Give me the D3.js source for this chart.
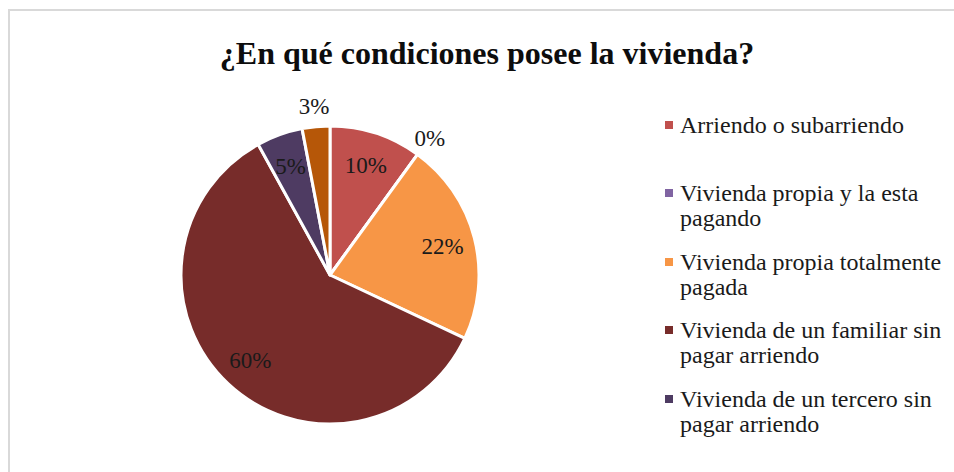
<!DOCTYPE html>
<html>
<head>
<meta charset="utf-8">
<script src="https://cdn.jsdelivr.net/npm/d3@7"></script>
<style>
  body { margin: 0; background: #fff; }
  text { font-family: "Liberation Serif", "Times New Roman", serif; }
</style>
</head>
<body>
<div id="chart"></div>
<script>
const title = '¿En qué condiciones posee la vivienda?'
// slices, clockwise from 12 o'clock
const categories = [
  'Arriendo o subarriendo',
  'Vivienda propia y la esta pagando',
  'Vivienda propia totalmente pagada',
  'Vivienda de un familiar sin pagar arriendo',
  'Vivienda de un tercero sin pagar arriendo',
  'Otra'
]
const values = [10, 0, 22, 60, 5, 3]
const colors = ['#C0504D', '#8064A2', '#F79646', '#772C2A', '#4E3B62', '#B65708']
// legend lines as they wrap in the picture (only the first 5 fit)
const legendLines = [
  ['Arriendo o subarriendo'],
  ['Vivienda propia y la esta', 'pagando'],
  ['Vivienda propia totalmente', 'pagada'],
  ['Vivienda de un familiar sin', 'pagar arriendo'],
  ['Vivienda de un tercero sin', 'pagar arriendo']
]
const outsideLabels = [1, 5] // small slices labelled outside the pie

const width = 954
const height = 472
const cx = 330, cy = 275, radius = 149

const svg = d3.select('#chart')
  .append('svg')
  .attr('width', width)
  .attr('height', height)

// chart frame (only top and left edges are visible)
svg.append('path')
  .attr('d', `M9,${height} V10 H${width}`)
  .attr('fill', 'none')
  .attr('stroke', '#d9d9d9')
  .attr('stroke-width', 2)

svg.append('text')
  .attr('x', 487)
  .attr('y', 64)
  .attr('text-anchor', 'middle')
  .style('font-size', '32px')
  .style('font-weight', 'bold')
  .style('fill', '#0d0d0d')
  .text(title)

const data = values.map((v, i) => ({ name: categories[i], value: v, color: colors[i], i }))

const pie = d3.pie().sort(null).value(d => d.value)
const arcs = pie(data)

const arc = d3.arc().innerRadius(0).outerRadius(radius)
const labelArc = d3.arc().innerRadius(radius * 0.78).outerRadius(radius * 0.78)
const outerArc = d3.arc().innerRadius(radius + 21).outerRadius(radius + 21)

const g = svg.append('g').attr('transform', `translate(${cx},${cy})`)

g.selectAll('path.slice')
  .data(arcs)
  .enter()
  .append('path')
  .attr('class', 'slice')
  .attr('d', arc)
  .attr('fill', d => d.data.color)
  .attr('stroke', '#fff')
  .attr('stroke-width', 3)
  .attr('stroke-linejoin', 'round')

g.selectAll('text.pct')
  .data(arcs)
  .enter()
  .append('text')
  .attr('class', 'pct')
  .attr('transform', d => {
    const a = outsideLabels.includes(d.data.i) ? outerArc : labelArc
    return `translate(${a.centroid(d)})`
  })
  .attr('text-anchor', 'middle')
  .attr('dy', '0.35em')
  .style('font-size', '23px')
  .style('fill', '#1a1a1a')
  .text(d => `${d.data.value}%`)

// legend
const legendX = 665
const legendY = [125, 193, 262, 330, 399]
const lineH = 25

const legend = svg.selectAll('.legendItem')
  .data(legendLines)
  .enter()
  .append('g')
  .attr('class', 'legendItem')
  .attr('transform', (d, i) => `translate(${legendX}, ${legendY[i]})`)

legend.append('rect')
  .attr('x', 0)
  .attr('y', -4)
  .attr('width', 8)
  .attr('height', 8)
  .attr('fill', (d, i) => colors[i])

legend.each(function(lines) {
  const t = d3.select(this).append('text')
    .attr('x', 15)
    .attr('y', 0)
    .style('font-size', '24px')
    .style('fill', '#1a1a1a')
  lines.forEach((line, j) => {
    t.append('tspan')
      .attr('x', 15)
      .attr('dy', j === 0 ? '0.35em' : lineH)
      .text(line)
  })
})
</script>
</body>
</html>
